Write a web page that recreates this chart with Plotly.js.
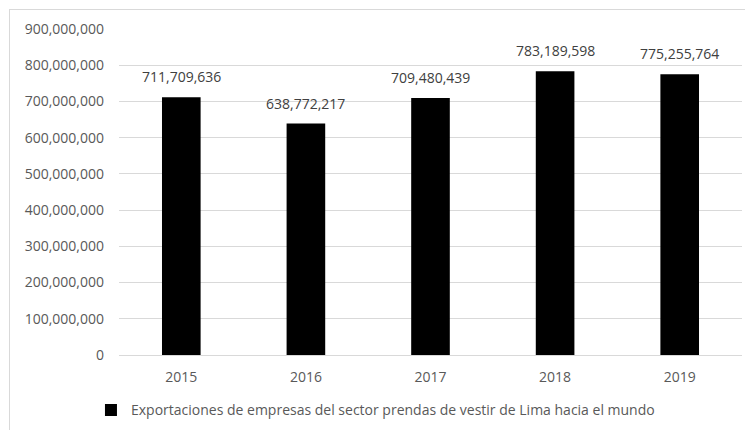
<!DOCTYPE html>
<html>
<head>
<meta charset="utf-8">
<script src="https://cdn.plot.ly/plotly-3.0.1.min.js"></script>
<style>
html,body{margin:0;padding:0;background:#fff;}
#wrap{position:relative;width:745px;height:430px;}
#chart{position:absolute;left:0;top:0;width:745px;height:430px;}
#frame{position:absolute;left:9px;top:9px;width:740px;height:430px;border:1px solid #d9d9d9;pointer-events:none;}
</style>
</head>
<body>
<div id="wrap"><div id="chart"></div><div id="frame"></div></div>
<script>
const years = ['2015','2016','2017','2018','2019'];
const exportValues = [711709636, 638772217, 709480439, 783189598, 775255764];
const seriesName = 'Exportaciones de empresas del sector prendas de vestir de Lima hacia el mundo';
const yTicks = [0,100000000,200000000,300000000,400000000,500000000,600000000,700000000,800000000,900000000];

const fmt = v => v.toString().replace(/\B(?=(\d{3})+(?!\d))/g, ',');
const FONT = '"Open Sans", Carlito, Calibri, sans-serif';
const FS = 14;

const trace = {
  type: 'bar',
  x: years,
  y: exportValues,
  name: seriesName,
  marker: {color: '#000000'},
  showlegend: true
};

// annotations placed on the category axis by category index
const annotations = years.map((yr, i) => ({
  x: i, y: exportValues[i], xref: 'x', yref: 'y',
  text: fmt(exportValues[i]), showarrow: false,
  yanchor: 'bottom', yshift: 9,
  font: {family: FONT, size: FS, color: '#404040'}
}));

const layout = {
  width: 745, height: 430,
  margin: {l: 119, r: 3, t: 29, b: 75},
  paper_bgcolor: '#ffffff',
  plot_bgcolor: '#ffffff',
  bargap: 0.69,
  font: {family: FONT, size: FS, color: '#595959'},
  showlegend: true,
  annotations: annotations,
  legend: {
    orientation: 'h', x: -0.045, xanchor: 'left', y: -0.17, yanchor: 'middle',
    font: {family: FONT, size: FS, color: '#595959'},
    itemwidth: 30
  },
  xaxis: {
    type: 'category',
    categoryarray: years,
    range: [-0.5, years.length - 0.5],
    showgrid: false, showline: false, zeroline: false,
    ticks: '', ticklabelstandoff: 12,
    tickfont: {family: FONT, size: FS, color: '#595959'}
  },
  yaxis: {
    range: [0, 900000000],
    tickvals: yTicks,
    ticktext: yTicks.map(fmt),
    showgrid: true, gridcolor: '#d9d9d9', gridwidth: 1,
    zeroline: true, zerolinecolor: '#d9d9d9', zerolinewidth: 1,
    showline: false, ticks: '', ticklabelstandoff: 14,
    tickfont: {family: FONT, size: FS, color: '#595959'}
  }
};

Plotly.newPlot('chart', [trace], layout, {staticPlot: true, displayModeBar: false});
</script>
</body>
</html>
